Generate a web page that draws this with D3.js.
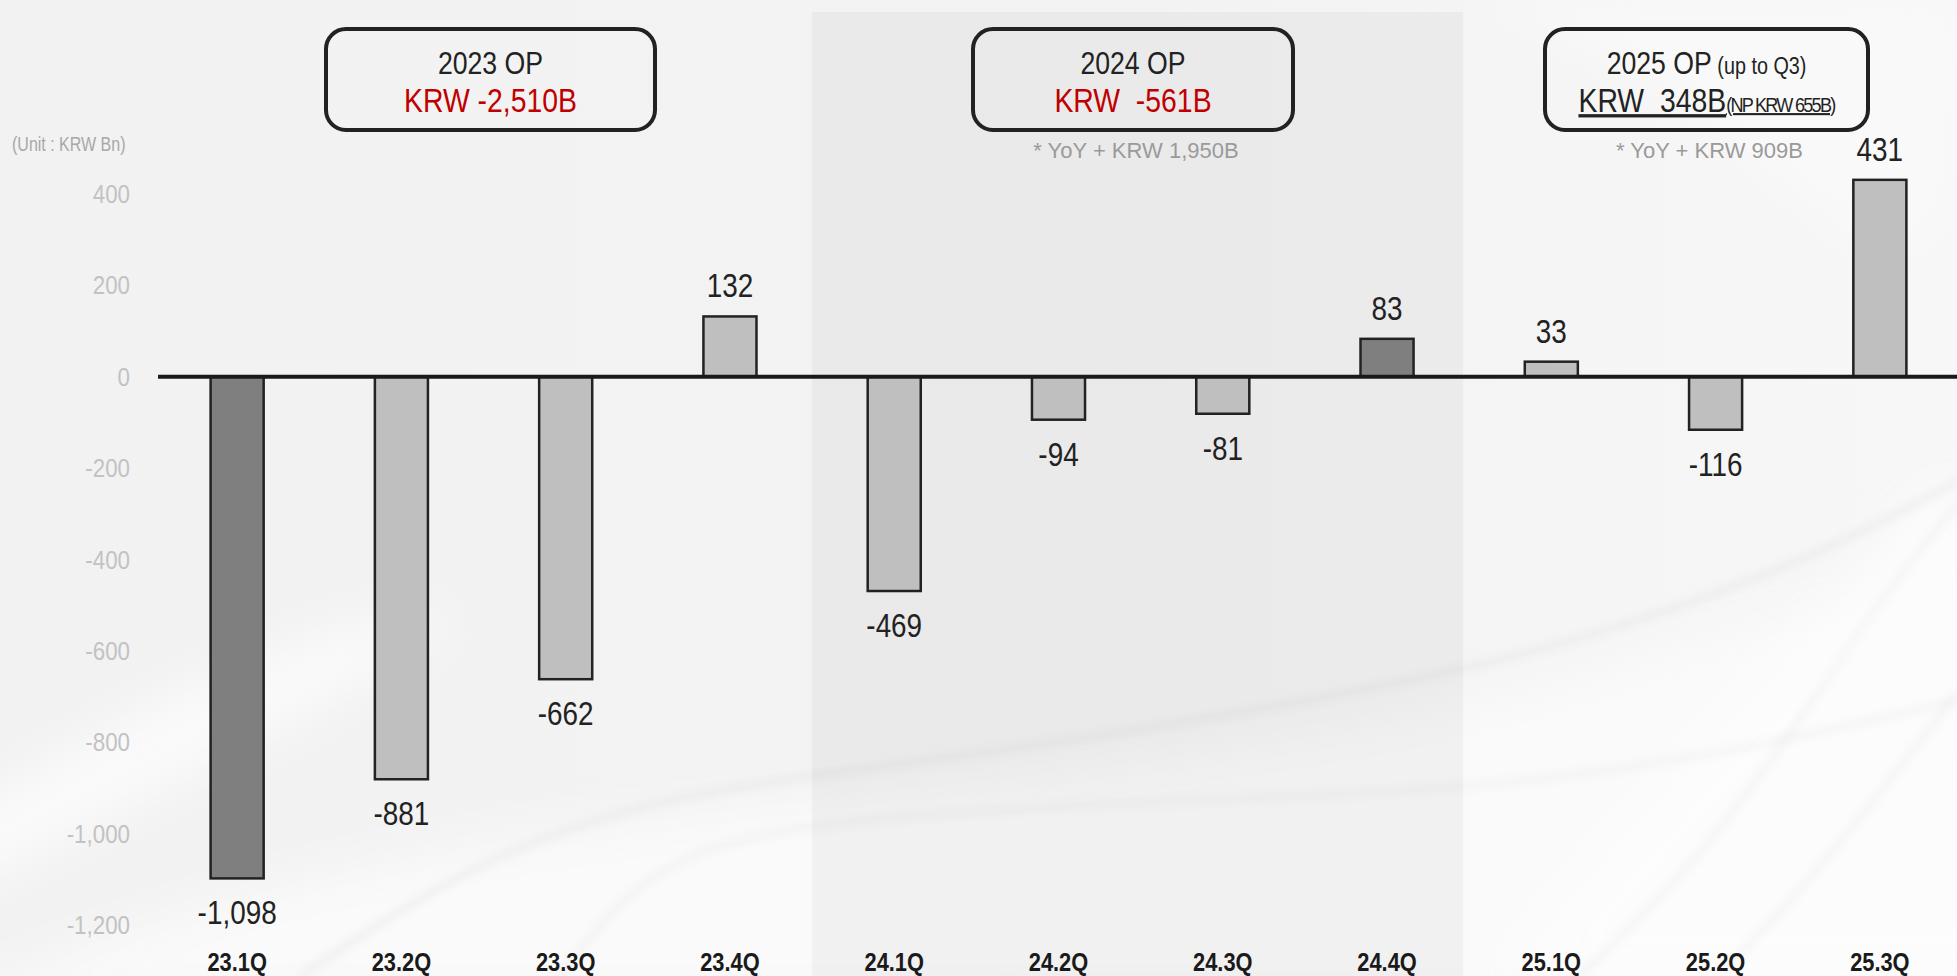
<!DOCTYPE html>
<html>
<head>
<meta charset="utf-8">
<script src="https://cdn.jsdelivr.net/npm/d3@7"></script>
<style>
  html, body { margin: 0; padding: 0; background: #f2f2f2; overflow: hidden; }
  svg { display: block; }
  text { font-family: "Liberation Sans", Arial, sans-serif; }
</style>
</head>
<body>
<svg id="chart" width="1957" height="976"></svg>
<script>
// Quarterly operating profit (KRW Bn)
const quarters = ["23.1Q", "23.2Q", "23.3Q", "23.4Q", "24.1Q", "24.2Q", "24.3Q", "24.4Q", "25.1Q", "25.2Q", "25.3Q"];
const opValues = [-1098, -881, -662, 132, -469, -94, -81, 83, 33, -116, 431];
const darkQuarters = ["23.1Q", "24.4Q"];
const yTicks = [400, 200, 0, -200, -400, -600, -800, -1000, -1200];

// Annual summary boxes
const summaryYears = ["2023", "2024", "2025"];
const summaryTitles = ["2023 OP", "2024 OP", "2025 OP"];
const summaryTitleNotes = ["", "", "(up to Q3)"];
const summaryAmounts = ["KRW -2,510B", "KRW  -561B", "KRW  348B"];
const summaryAmountNotes = ["", "", "(NP KRW 655B)"];
const summaryYoY = ["", "* YoY + KRW 1,950B", "* YoY + KRW 909B"];
const shadedYear = ["24.1Q", "24.4Q"];

const W = 1957, H = 976;
const svg = d3.select("#chart");
const defs = svg.append("defs");

defs.append("filter").attr("id", "soft").attr("x", "-20%").attr("y", "-20%").attr("width", "140%").attr("height", "140%")
  .append("feGaussianBlur").attr("stdDeviation", 22);
defs.append("filter").attr("id", "softLine").attr("x", "-20%").attr("y", "-20%").attr("width", "140%").attr("height", "140%")
  .append("feGaussianBlur").attr("stdDeviation", 5);

const bgGrad = defs.append("linearGradient").attr("id", "bgGrad")
  .attr("x1", "0").attr("y1", "0").attr("x2", "1").attr("y2", "0");
bgGrad.append("stop").attr("offset", "0").attr("stop-color", "#f2f2f2");
bgGrad.append("stop").attr("offset", "0.6").attr("stop-color", "#f3f3f3");
bgGrad.append("stop").attr("offset", "1").attr("stop-color", "#f7f7f7");

// number format with a plain hyphen for negatives
const locale = d3.formatLocale({ decimal: ".", thousands: ",", grouping: [3], currency: ["", ""], minus: "-" });
const fmt = locale.format(",");

// condensed text: horizontal squeeze around the anchor point
function narrowText(parent, x, y, sx) {
  return parent.append("text")
    .attr("transform", `translate(${x},${y}) scale(${sx},1)`)
    .attr("x", 0).attr("y", 0);
}

// ---- background with silky swooshes ----
const bg = svg.append("g");
bg.append("rect").attr("width", W).attr("height", H).attr("fill", "url(#bgGrad)");

const line = d3.line().curve(d3.curveBasis);
bg.append("path")
  .attr("d", line([[-50, 1000], [200, 900], [500, 840], [800, 800], [1100, 770], [1450, 720], [1700, 640], [2000, 560], [2000, 1000]]) + "Z")
  .attr("fill", "#fbfbfb").attr("filter", "url(#soft)").attr("opacity", 0.9);
bg.append("path")
  .attr("d", line([[1500, 980], [1650, 800], [1800, 650], [1900, 520], [2000, 420], [2000, 980]]) + "Z")
  .attr("fill", "#fdfdfd").attr("filter", "url(#soft)").attr("opacity", 0.9);
bg.append("path")
  .attr("d", line([[1470, 0], [1650, 60], [1800, 200], [1960, 300], [1960, 0]]) + "Z")
  .attr("fill", "#f9f9f9").attr("filter", "url(#soft)");
bg.append("path")
  .attr("d", line([[-50, 820], [150, 700], [350, 620], [500, 600], [300, 720], [100, 820], [-50, 900]]) + "Z")
  .attr("fill", "#fafafa").attr("filter", "url(#soft)");

const folds = [
  [[300, 976], [474, 860], [650, 800], [811, 775], [1124, 735], [1461, 673], [1623, 627], [1810, 560], [1960, 480]],
  [[560, 976], [649, 860], [800, 825], [949, 812], [1200, 800], [1461, 790], [1700, 760], [1960, 700]],
  [[1580, 976], [1700, 860], [1800, 720], [1880, 600], [1960, 500]],
  [[1720, 976], [1810, 880], [1890, 780], [1960, 690]]
];
folds.forEach((f, i) => {
  bg.append("path").attr("d", line(f)).attr("fill", "none")
    .attr("stroke", "#d6d6d6").attr("stroke-width", i === 0 ? 6 : 4)
    .attr("opacity", 0.35).attr("filter", "url(#softLine)");
});

// ---- scales ----
const x = d3.scaleBand().domain(quarters).range([155, 1962])
  .paddingInner(0.677).paddingOuter(0.3385);
const y = d3.scaleLinear().domain([-1200, 400]).range([925, 194]);
const step = x.step();
const cx = q => x(q) + x.bandwidth() / 2;

// 2024 shaded panel
const shadeL = cx(shadedYear[0]) - step / 2;
const shadeR = cx(shadedYear[1]) + step / 2 - 6;
svg.append("rect")
  .attr("x", shadeL).attr("y", 12).attr("width", shadeR - shadeL).attr("height", H - 12)
  .attr("fill", "#000").attr("opacity", 0.035);

// ---- y axis labels ----
const yAxis = svg.append("g");
yTicks.forEach(d => {
  narrowText(yAxis, 130, y(d), 0.86)
    .attr("dy", "0.35em").attr("text-anchor", "end")
    .attr("font-size", 26).attr("fill", "#c2c2c2")
    .text(fmt(d));
});

narrowText(svg, 12, 151, 0.8)
  .attr("font-size", 20).attr("fill", "#a8a8a8")
  .text("(Unit : KRW Bn)");

// ---- bars ----
svg.append("g").selectAll("rect").data(quarters).join("rect")
  .attr("x", q => x(q))
  .attr("y", (q, i) => y(Math.max(0, opValues[i])))
  .attr("width", x.bandwidth())
  .attr("height", (q, i) => Math.abs(y(opValues[i]) - y(0)))
  .attr("fill", q => darkQuarters.includes(q) ? "#7f7f7f" : "#bfbfbf")
  .attr("stroke", "#222").attr("stroke-width", 2.5);

// zero baseline
svg.append("line")
  .attr("x1", 158).attr("x2", W).attr("y1", y(0)).attr("y2", y(0))
  .attr("stroke", "#1a1a1a").attr("stroke-width", 4);

// value labels
const valueLayer = svg.append("g");
quarters.forEach((q, i) => {
  const v = opValues[i];
  narrowText(valueLayer, cx(q), v >= 0 ? y(v) - 19 : y(v) + 46, 0.82)
    .attr("text-anchor", "middle").attr("font-size", 34).attr("fill", "#222")
    .text(fmt(v));
});

// category labels
const catLayer = svg.append("g");
quarters.forEach(q => {
  narrowText(catLayer, cx(q), 971, 0.84)
    .attr("text-anchor", "middle").attr("font-size", 26).attr("font-weight", "bold").attr("fill", "#1a1a1a")
    .text(q);
});

// ---- annual summary boxes ----
const boxX = [326, 973, 1545];
const boxW = [329, 320, 323];
const boxTop = 29, boxH = 101;

summaryYears.forEach((yr, i) => {
  const g = svg.append("g");
  const mid = boxX[i] + boxW[i] / 2;
  g.append("rect")
    .attr("x", boxX[i]).attr("y", boxTop).attr("width", boxW[i]).attr("height", boxH)
    .attr("rx", 20).attr("ry", 20)
    .attr("fill", "none").attr("stroke", "#222").attr("stroke-width", 4);

  const t1 = narrowText(g, mid, 74, 0.86)
    .attr("text-anchor", "middle").attr("font-size", 31).attr("fill", "#222");
  t1.append("tspan").text(summaryTitles[i]);
  if (summaryTitleNotes[i]) t1.append("tspan").attr("font-size", 23).text(" " + summaryTitleNotes[i]);

  const isGain = i === 2;
  const t2 = narrowText(g, mid, 112, 0.86)
    .attr("text-anchor", "middle").attr("font-size", 33).attr("fill", isGain ? "#222" : "#c00000")
    .attr("xml:space", "preserve")
    .attr("text-decoration", isGain ? "underline" : null);
  t2.append("tspan").text(summaryAmounts[i]);
  if (summaryAmountNotes[i]) t2.append("tspan").attr("font-size", 21).attr("letter-spacing", -2).text(summaryAmountNotes[i]);

  if (summaryYoY[i]) {
    g.append("text")
      .attr("x", mid + 3).attr("y", 158).attr("text-anchor", "middle")
      .attr("font-family", "'Noto Sans', 'Open Sans', sans-serif")
      .attr("font-size", 22).attr("fill", "#9a9a9a")
      .text(summaryYoY[i]);
  }
});
</script>
</body>
</html>
